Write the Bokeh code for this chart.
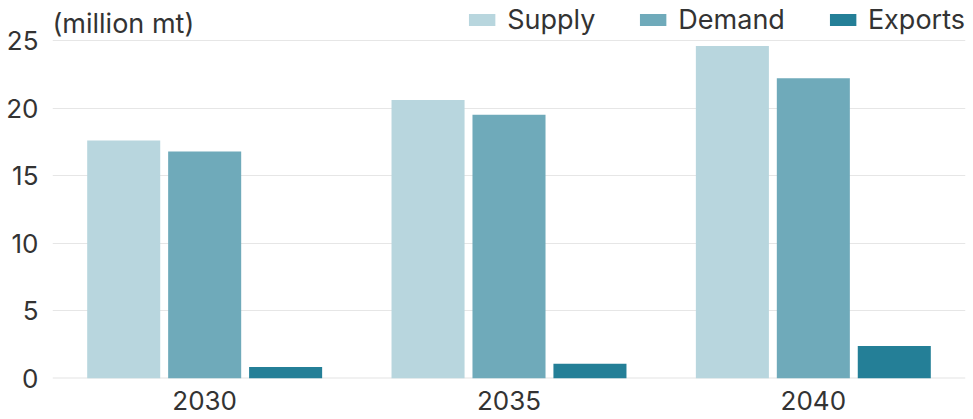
from bokeh.plotting import figure
from bokeh.models import (FactorRange, Range1d, FixedTicker, Legend, LegendItem,
                          Label, Span)
from bokeh.transform import dodge
from bokeh.embed import file_html
from bokeh.resources import INLINE

# Projected balance by year (million metric tonnes)
years = ["2030", "2035", "2040"]
supply = [17.6, 20.6, 24.6]
demand = [16.8, 19.5, 22.2]
exports = [0.85, 1.1, 2.4]
y_ticks = [0, 5, 10, 15, 20, 25]

series_names = ["Supply", "Demand", "Exports"]
series_colors = ["#b8d6de", "#6faaba", "#247f97"]

FONT = "Inter"
TEXT = "#333333"

source = dict(year=years, supply=supply, demand=demand, exports=exports)

p = figure(
    width=973, height=419,
    x_range=FactorRange(*years, range_padding=0),
    y_range=Range1d(0, 27.96),
    output_backend="svg", toolbar_location=None,
    min_border_left=52, min_border_right=8,
    min_border_top=0, min_border_bottom=41,
    outline_line_color=None,
)

bar_w = 0.24
offsets = [-0.266, 0.0, 0.266]
renderers = []
for field, off, col in zip(["supply", "demand", "exports"], offsets, series_colors):
    r = p.vbar(x=dodge("year", off, range=p.x_range), top=field, width=bar_w,
               source=source, fill_color=col, line_color=None)
    renderers.append(r)

# zero baseline
p.add_layout(Span(location=0, dimension="width", line_color="#e4e4e4",
                  line_width=2, level="underlay"))

# grid
p.xgrid.grid_line_color = None
p.ygrid.ticker = FixedTicker(ticks=y_ticks)
p.ygrid.grid_line_color = "#e6e6e6"
p.ygrid.grid_line_width = 1

# axes
p.yaxis.ticker = FixedTicker(ticks=y_ticks)
for ax in (p.xaxis[0], p.yaxis[0]):
    ax.axis_line_color = None
    ax.major_tick_line_color = None
    ax.minor_tick_line_color = None
    ax.major_tick_in = 0
    ax.major_tick_out = 0
    ax.major_label_text_font = FONT
    ax.major_label_text_font_size = "26px"
    ax.major_label_text_color = TEXT
p.yaxis.major_label_standoff = 14
p.xaxis.major_label_standoff = 12

# unit caption
p.add_layout(Label(x=0, y=27.96, y_offset=-6, text="(million mt)",
                   text_font=FONT, text_font_size="27px", text_color=TEXT,
                   text_baseline="top", text_align="left"))

legend = Legend(
    items=[LegendItem(label=n, renderers=[r]) for n, r in zip(series_names, renderers)],
    orientation="horizontal", location="top_right",
    margin=0, padding=0, spacing=41,
    glyph_width=33, glyph_height=15, label_standoff=9, label_height=38,
    label_text_font=FONT, label_text_font_size="27px", label_text_color=TEXT,
    background_fill_alpha=0, border_line_color=None,
)
p.add_layout(legend)

open("out.html", "w").write(file_html(p, INLINE))
